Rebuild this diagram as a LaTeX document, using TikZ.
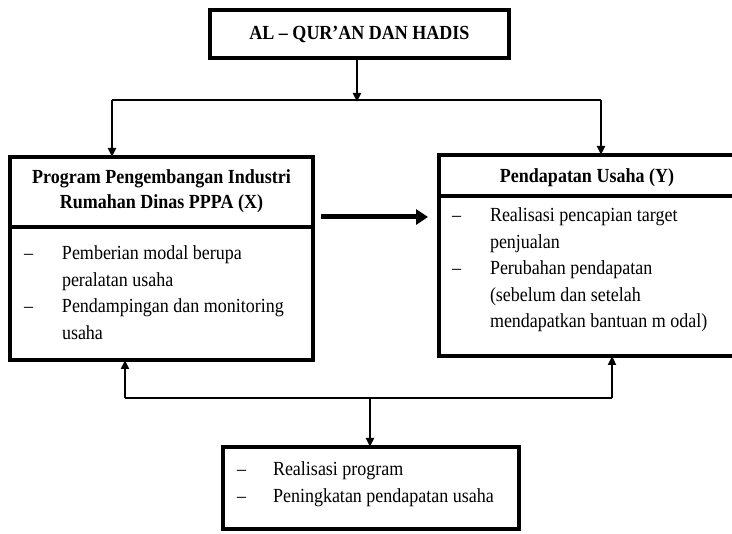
\documentclass[tikz,border=0pt]{standalone}
\usepackage{fontspec}
\setmainfont{Liberation Serif}[FakeStretch=0.9]
\usetikzlibrary{arrows.meta}
\begin{document}
\begin{tikzpicture}[x=1pt,y=-1pt,
  boxst/.style={draw=black,line width=4pt,inner sep=0pt,outer sep=0pt,rectangle},
  divider/.style={line width=4pt},
  txt/.style={font=\fontsize{20}{26.5}\selectfont,inner sep=0pt,outer sep=0pt},
  head/.style={font=\fontsize{20}{25}\selectfont\bfseries,inner sep=0pt,outer sep=0pt},
  conn/.style={line width=2.3pt},
  arr/.style={line width=2.3pt,-{Triangle[length=9pt,width=8pt]}},
  bigarr/.style={line width=5pt,-{Triangle[length=12pt,width=15pt]}}]
\useasboundingbox (0,0) rectangle (732,534);
\clip (0,0) rectangle (732,534);
% boxes
\node[boxst,minimum width=299pt,minimum height=48pt,head] (top) at (359.5,34) {AL \textendash{} QUR'AN DAN HADIS};
\node[boxst,minimum width=303pt,minimum height=203pt] (left) at (161.5,258.5) {};
\node[boxst,minimum width=301pt,minimum height=201pt] (right) at (589.5,255.5) {};
\node[boxst,minimum width=296pt,minimum height=82pt] (bot) at (371,488) {};
% dividers
\coordinate (dl) at (0,227);
\coordinate (dr) at (0,196);
\draw[divider] (left.west |- dl) -- (left.east |- dl);
\draw[divider] (right.west |- dr) -- (right.east |- dr);
% headers
\node[head,anchor=base] (lh) at (161.5,184) {\begin{tabular}[t]{@{}c@{}}Program Pengembangan Industri\\ Rumahan Dinas PPPA (X)\end{tabular}};
\node[head,anchor=base] (rh) at (587,183) {Pendapatan Usaha (Y)};
% lists
\node[txt,anchor=base west] (ll) at (24,260) {\begin{tabular}[t]{@{}p{38pt}@{}l@{}}
\textendash & Pemberian modal berupa\\
 & peralatan\ usaha\\
\textendash & Pendampingan dan monitoring\\
 & usaha\end{tabular}};
\node[txt,anchor=base west] (rl) at (452,222) {\begin{tabular}[t]{@{}p{38pt}@{}l@{}}
\textendash & Realisasi pencapian\ target\\
 & penjualan\\
\textendash & Perubahan pendapatan\\
 & (sebelum dan setelah\\
 & mendapatkan\ bantuan m odal)\end{tabular}};
\node[txt,anchor=base west] (bl0) at (237,476) {\begin{tabular}[t]{@{}p{36pt}@{}l@{}}
\textendash & Realisasi program\\
\textendash & Peningkatan pendapatan usaha\end{tabular}};
% top connectors
\coordinate (jt) at (357,100);
\coordinate (jl) at (112,100);
\coordinate (jr) at (601,100);
\draw[arr] (top.south -| jt) -- ([yshift=-2pt]jt);
\draw[conn] (jl) -- (jr);
\draw[arr] (jl) -- (jl |- left.north);
\draw[arr] (jr) -- (jr |- right.north);
% middle arrow
\coordinate (ma) at (0,217);
\draw[bigarr] ([xshift=8pt]left.east |- ma) -- ([xshift=-11pt]right.west |- ma);
% bottom connectors
\coordinate (bl) at (125,398);
\coordinate (br) at (612,398);
\coordinate (bm) at (370,398);
\draw[conn] (bl) -- (br);
\draw[arr] (bl) -- (bl |- left.south);
\draw[arr] (br) -- (br |- right.south);
\draw[arr] (bm) -- (bm |- bot.north);
\end{tikzpicture}
\end{document}
